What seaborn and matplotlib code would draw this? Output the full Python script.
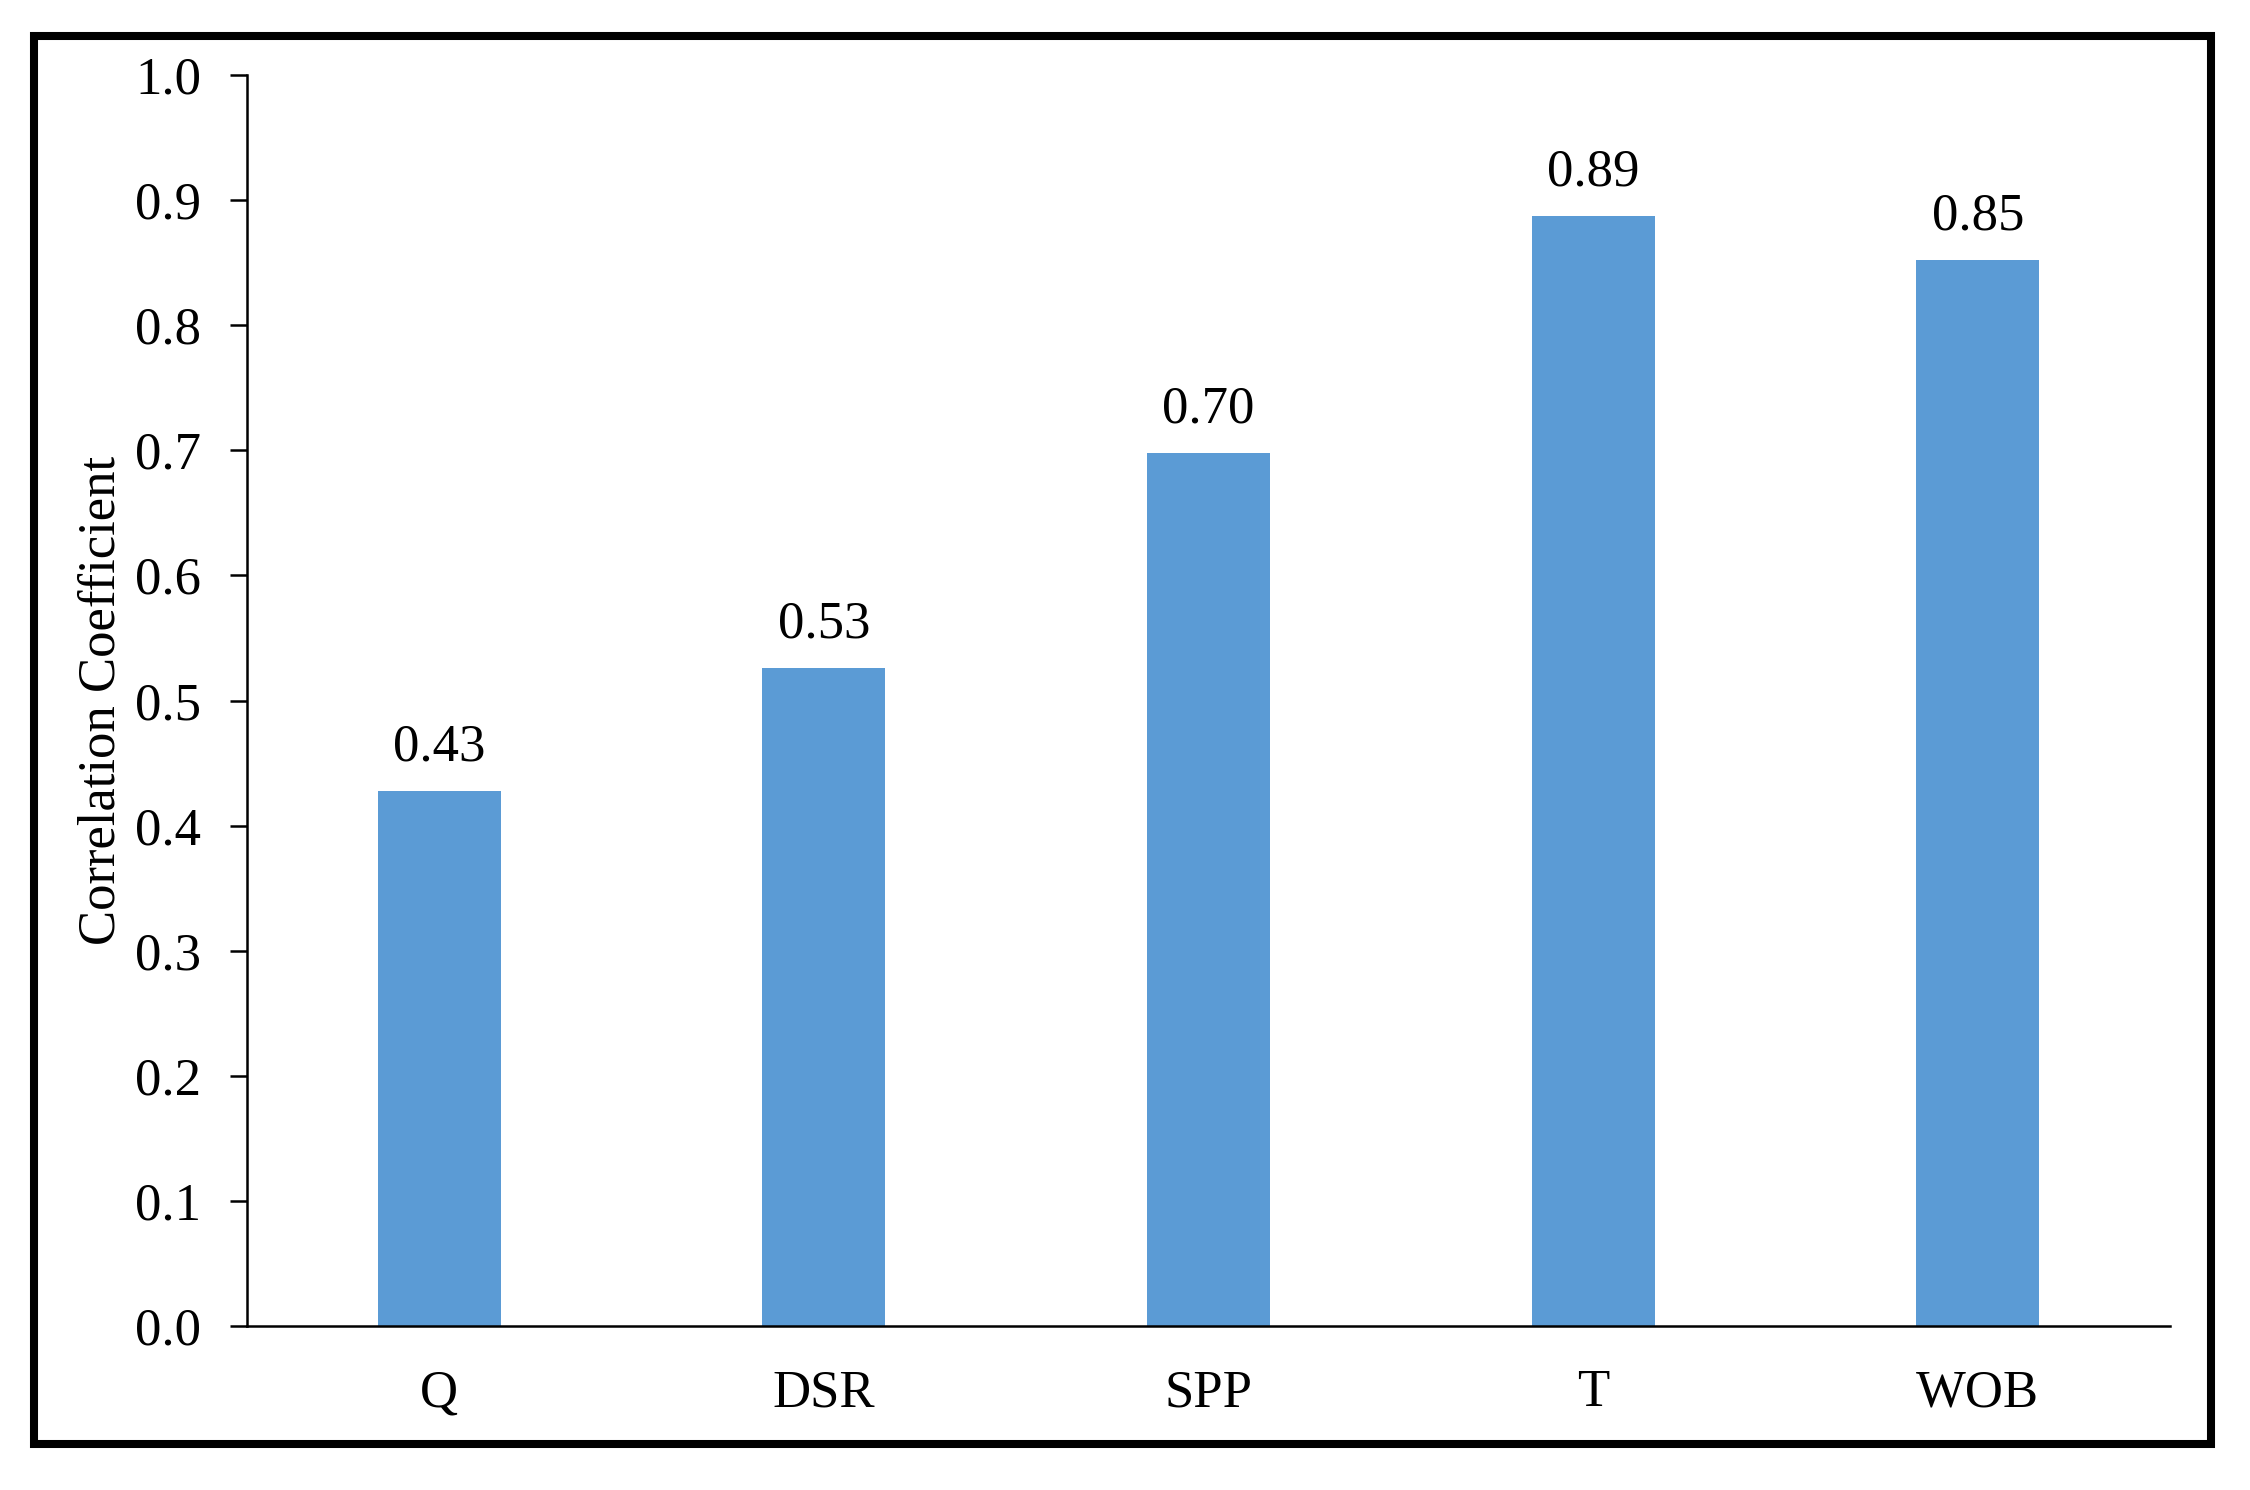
import matplotlib
matplotlib.use("Agg")
import matplotlib.pyplot as plt
import matplotlib.patches as mpatches
import seaborn as sns
import pandas as pd

categories = ["Q", "DSR", "SPP", "T", "WOB"]
values = [0.428, 0.526, 0.698, 0.887, 0.852]
y_ticks = [0.0, 0.1, 0.2, 0.3, 0.4, 0.5, 0.6, 0.7, 0.8, 0.9, 1.0]
y_label = "Correlation Coefficient"

df = pd.DataFrame({"var": categories, "r": values})

sns.set_theme(style="white")
plt.rcParams["font.family"] = ["Liberation Serif", "DejaVu Serif"]

fig = plt.figure(figsize=(22.5, 14.9), dpi=100)
ax = fig.add_axes([247 / 2250, 1 - 1326 / 1490, (2170 - 247) / 2250, (1326 - 75) / 1490])

sns.barplot(data=df, x="var", y="r", color="#5B9BD5", width=0.32, saturation=1,
            ax=ax, edgecolor="none", linewidth=0)

ax.set_xlim(-0.5, len(categories) - 0.5)
ax.set_ylim(0, 1.0)
ax.set_yticks(y_ticks)
ax.set_yticklabels([f"{t:.1f}" for t in y_ticks])
ax.set_xlabel("")
ax.set_ylabel(y_label, fontsize=38, color="black")
ax.yaxis.set_label_coords(-0.063, 0.5)

for s in ["top", "right"]:
    ax.spines[s].set_visible(False)
for s in ["left", "bottom"]:
    ax.spines[s].set_color("black")
    ax.spines[s].set_linewidth(1.8)

ax.tick_params(axis="y", direction="out", length=12, width=1.8, color="black",
               labelsize=38, pad=21, labelcolor="black", left=True)
ax.tick_params(axis="x", length=0, labelsize=38, pad=31, labelcolor="black")

for cont in ax.containers:
    ax.bar_label(cont, labels=[f"{v:.2f}" for v in values], padding=14, fontsize=38, color="black")

frame = mpatches.Rectangle((34 / 2250, 1 - 1444 / 1490), (2211 - 34) / 2250, (1444 - 36) / 1490,
                           transform=fig.transFigure, fill=False, edgecolor="black",
                           linewidth=5.8, joinstyle="miter")
fig.patches.append(frame)

fig.savefig("out.png", dpi=100, facecolor="white")
